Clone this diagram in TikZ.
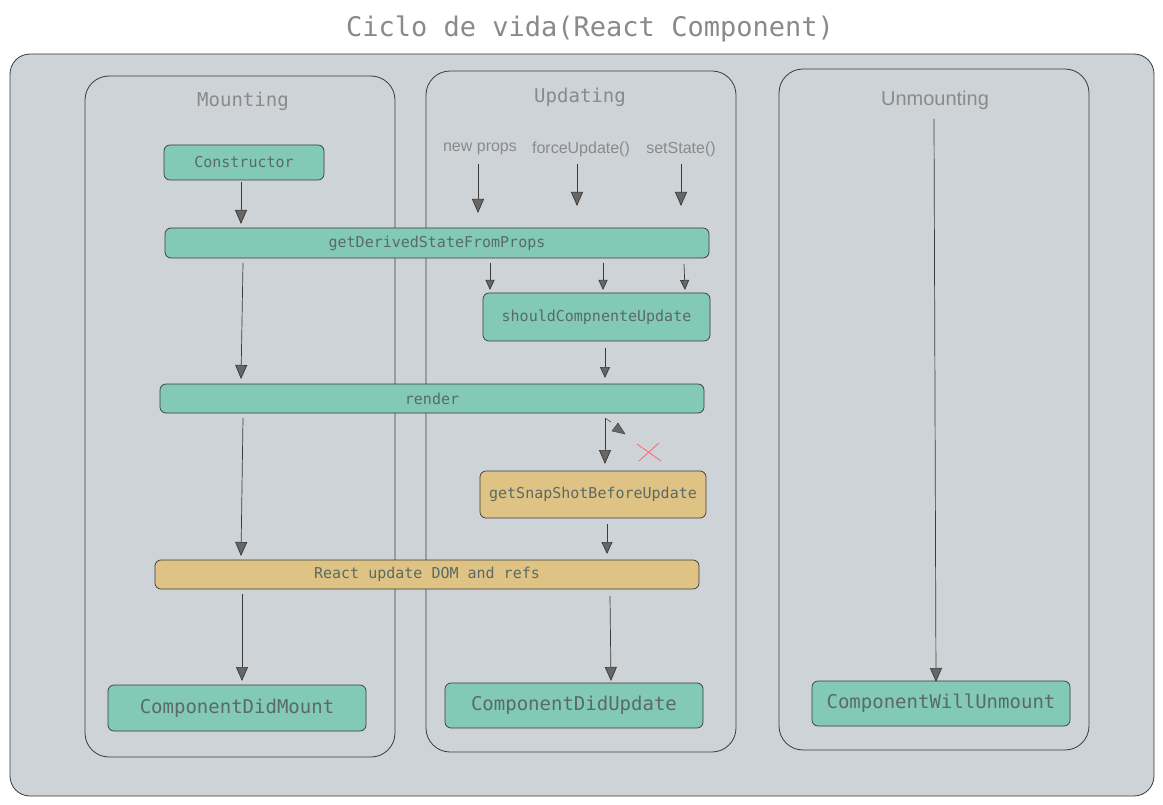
\documentclass[tikz,border=0pt]{standalone}
\usepackage{fontspec}
\setmainfont{Liberation Sans}
\setmonofont{DejaVu Sans Mono}
\usetikzlibrary{arrows.meta}
\definecolor{bgc}{HTML}{CED3D8}
\definecolor{grn}{HTML}{82CAB5}
\definecolor{ylw}{HTML}{DFC384}
\definecolor{txt}{HTML}{5A6A65}
\definecolor{ttl}{HTML}{8A8A8A}
\definecolor{edge}{HTML}{3A3A3A}
\tikzset{
  panel/.style={draw=edge, line width=0.8pt, rounded corners=24pt},
  box/.style={draw=edge, line width=0.7pt, rounded corners=6pt, inner sep=0pt, text=txt, font=\ttfamily\fontsize{15}{18}\selectfont},
  gbox/.style={box, fill=grn},
  ybox/.style={box, fill=ylw},
  bigbox/.style={box, font=\ttfamily\fontsize{19}{22}\selectfont},
  ptitle/.style={text=ttl, font=\ttfamily\fontsize{19}{22}\selectfont},
  trig/.style={text=ttl, font=\fontsize{16}{19}\selectfont},
  arr/.style={draw=edge, line width=0.7pt, -{Triangle[length=14pt,width=12pt,fill=gray!80!black]}},
}
\begin{document}
\begin{tikzpicture}[x=1pt,y=-1pt]
\useasboundingbox (0,0) rectangle (1163,805);
\fill[white] (0,0) rectangle (1163,805);
% title
\node[text=ttl, font=\ttfamily\fontsize{27}{30}\selectfont] (title) at (590,29) {Ciclo de vida(React Component)};
% outer
\draw[panel, fill=bgc, rounded corners=20pt] (10,54) rectangle (1154,796);
% panels
\draw[panel] (85,76) rectangle (395,757);
\draw[panel] (426,71) rectangle (736,752);
\draw[panel] (779,69) rectangle (1089,750);
\node[ptitle] (tm) at (243,101) {Mounting};
\node[ptitle] (tu) at (580,97) {Updating};
\node[text=ttl, font=\fontsize{20}{23}\selectfont] (tun) at (935,100) {Unmounting};
% trigger labels
\node[trig] (np) at (480,149) {new props};
\node[trig] (fu) at (581,149) {forceUpdate()};
\node[trig] (ss) at (681,149) {setState()};
% boxes
\node[gbox, minimum width=160pt, minimum height=35pt] (cons) at (244,162.5) {\raisebox{-1.5pt}{Constructor}};
\node[gbox, minimum width=544pt, minimum height=30pt] (gd) at (437,243) {\raisebox{-1.5pt}{getDerivedStateFromProps}};
\node[gbox, minimum width=227pt, minimum height=48pt] (sh) at (596.5,317) {\raisebox{-1.5pt}{shouldCompnenteUpdate}};
\node[gbox, minimum width=544pt, minimum height=29pt] (rd) at (432,398.5) {render};
\node[ybox, minimum width=226pt, minimum height=47pt] (gs) at (593,494.5) {\raisebox{-1.5pt}{getSnapShotBeforeUpdate}};
\node[ybox, minimum width=544pt, minimum height=29pt] (dom) at (427,574.5) {\raisebox{-1.5pt}{React update DOM and refs}};
\node[bigbox, fill=grn, minimum width=258pt, minimum height=46pt] (dm) at (237,708) {\raisebox{-2pt}{ComponentDidMount}};
\node[bigbox, fill=grn, minimum width=258pt, minimum height=45pt] (du) at (574,705.5) {\raisebox{-2pt}{ComponentDidUpdate}};
\node[bigbox, fill=grn, minimum width=258pt, minimum height=45pt] (wu) at (941,703.5) {\raisebox{-2pt}{ComponentWillUnmount}};
% coordinates for arrow ends
\coordinate (a1s) at (241,182);  \coordinate (a1e) at (241,224);
\coordinate (a2s) at (243,263);  \coordinate (a2e) at (241,379);
\coordinate (a3s) at (243,418);  \coordinate (a3e) at (241,556);
\coordinate (a4s) at (242,594);  \coordinate (a4e) at (242,681);
\coordinate (b1e) at (478,213);  \coordinate (b2e) at (577,206); \coordinate (b3e) at (681,206);
\coordinate (c1s) at (490,263);  \coordinate (c1e) at (490,290);
\coordinate (c2s) at (603,263);  \coordinate (c2e) at (603,290);
\coordinate (c3s) at (684,264);  \coordinate (c3e) at (685,290);
\coordinate (d1s) at (605,348);  \coordinate (d1e) at (605,378);
\coordinate (d2s) at (605,418);  \coordinate (d2e) at (605,464);
\coordinate (d3s) at (607,524);  \coordinate (d3e) at (607,554);
\coordinate (d4s) at (610,596);  \coordinate (d4e) at (611,681);
\coordinate (u1s) at (934,119);  \coordinate (u1e) at (936,682);
% mounting arrows
\draw[arr] (a1s) -- (a1e);
\draw[arr] (a2s) -- (a2e);
\draw[arr] (a3s) -- (a3e);
\draw[arr] (a4s) -- (a4e);
% triggers
\draw[arr] ([yshift=-6pt]np.south -| b1e) -- (b1e);
\draw[arr] ([yshift=-4pt]fu.south -| b2e) -- (b2e);
\draw[arr] ([yshift=-4pt]ss.south -| b3e) -- (b3e);
% updating
\draw[arr, -{Triangle[length=10pt,width=9pt,fill=gray!80!black]}] (c1s) -- (c1e);
\draw[arr, -{Triangle[length=10pt,width=9pt,fill=gray!80!black]}] (c2s) -- (c2e);
\draw[arr, -{Triangle[length=10pt,width=9pt,fill=gray!80!black]}] (c3s) -- (c3e);
\draw[arr, -{Triangle[length=11pt,width=10pt,fill=gray!80!black]}] (d1s) -- (d1e);
\draw[arr] (d2s) -- (d2e);
\draw[draw=edge, line width=0.5pt] (d2s) -- (611,422);
\fill[gray!80!black, draw=edge, line width=0.4pt] (612,431) -- (618,423) -- (625,434) -- cycle;
\draw[red!60, line width=0.8pt] (637,444) -- (661,461) (659,443) -- (639,461);
\draw[arr, -{Triangle[length=12pt,width=11pt,fill=gray!80!black]}] (d3s) -- (d3e);
\draw[arr] (d4s) -- (d4e);
% unmounting
\draw[arr] (u1s) -- (u1e);
\end{tikzpicture}
\end{document}
